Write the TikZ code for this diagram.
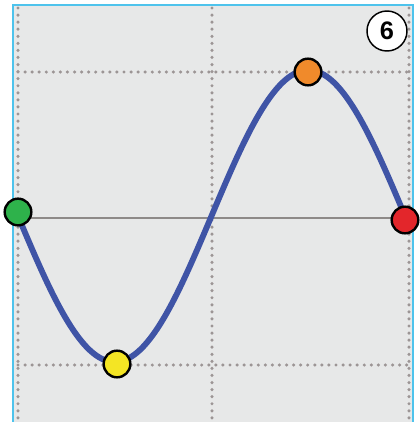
\documentclass[tikz,border=0pt]{standalone}
\usepackage{fontspec}
\newfontfamily\labelfont{Liberation Sans}
\definecolor{WaveBlue}{HTML}{3F54A6}
\definecolor{WaveFrame}{HTML}{4EC3EC}
\definecolor{WavePanel}{HTML}{E7E8E8}
\definecolor{WaveAxis}{HTML}{8E8A88}
\definecolor{WaveGrid}{HTML}{9C9595}
\definecolor{WaveGreen}{HTML}{2EB24B}
\definecolor{WaveYellow}{HTML}{F4E524}
\definecolor{WaveOrange}{HTML}{F08A2B}
\definecolor{WaveRed}{HTML}{E3262B}

\begin{document}
\begin{tikzpicture}[x=0.75pt,y=-0.75pt,
  gridline/.style={WaveGrid,line width=2.6pt,line cap=round,dash pattern=on 0pt off 5.3pt},
  wavedot/.style={circle,draw=black,line width=1.8pt,minimum size=20pt,inner sep=0pt}]
\path[use as bounding box] (0,0) rectangle (419,422);
\fill[WavePanel] (13,5) rectangle (413,422);
% dotted grid
\draw[gridline] (18,8) -- (18,422);
\draw[gridline] (212,8) -- (212,422);
\draw[gridline] (409,8) -- (409,422);
\draw[gridline] (18,72) -- (409,72);
\draw[gridline] (18,365) -- (409,365);
% axis
\draw[WaveAxis,line width=2pt] (13,218) -- (413,218);
% frame
\draw[WaveFrame,line width=2.2pt] (13,422) -- (13,5) -- (413,5) -- (413,422);
% wave
\draw[WaveBlue,line width=4.4pt,line cap=round]
  plot[domain=0:360,samples=120,smooth] ({18+1.075*\x},{216+146*sin(\x)});
\node[wavedot,fill=WaveGreen] (start) at (18,212) {};
\node[wavedot,fill=WaveYellow] (trough) at (117,364) {};
\node[wavedot,fill=WaveOrange] (crest) at (308,72) {};
\node[wavedot,fill=WaveRed] (finish) at (405,220) {};
% step number
\node[circle,draw=black,fill=white,line width=1.1pt,minimum size=30pt,inner sep=0pt,
  font=\labelfont\fontsize{19}{19}\selectfont\bfseries] (stepno) at (387,31) {6};
\end{tikzpicture}
\end{document}
